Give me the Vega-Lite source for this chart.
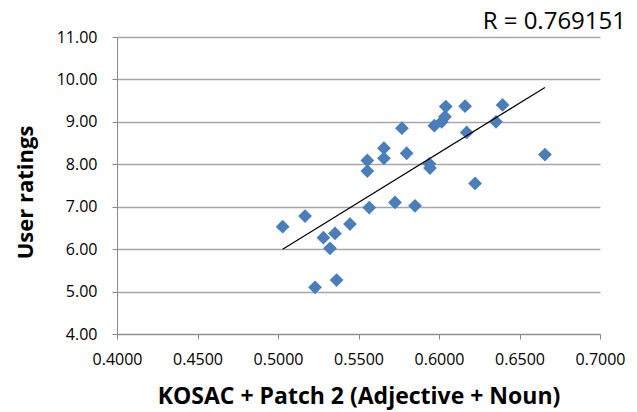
{
  "$schema": "https://vega.github.io/schema/vega-lite/v6.json",
  "width": 483,
  "height": 297,
  "autosize": "none",
  "padding": {"left": 117, "top": 37, "right": 37, "bottom": 78},
  "background": "white",
  "title": {"text": "R = 0.769151", "anchor": "end", "frame": "group", "dx": 26, "dy": 24, "offset": 0, "baseline": "alphabetic", "fontSize": 24, "fontWeight": "normal", "font": "Open Sans", "color": "#000000"},
  "datasets": {
    "pts": [
      {"x": 0.5029, "y": 6.53}, {"x": 0.5168, "y": 6.78}, {"x": 0.5282, "y": 6.27}, {"x": 0.5354, "y": 6.37},
      {"x": 0.5323, "y": 6.02}, {"x": 0.5230, "y": 5.10}, {"x": 0.5364, "y": 5.27}, {"x": 0.5447, "y": 6.59},
      {"x": 0.5567, "y": 6.98}, {"x": 0.5555, "y": 8.09}, {"x": 0.5555, "y": 7.84}, {"x": 0.5658, "y": 8.38},
      {"x": 0.5658, "y": 8.14}, {"x": 0.5770, "y": 8.85}, {"x": 0.5799, "y": 8.26}, {"x": 0.5727, "y": 7.10},
      {"x": 0.5851, "y": 7.02}, {"x": 0.5940, "y": 8.01}, {"x": 0.5944, "y": 7.91}, {"x": 0.5971, "y": 8.91},
      {"x": 0.6017, "y": 9.00}, {"x": 0.6037, "y": 9.12}, {"x": 0.6042, "y": 9.36}, {"x": 0.6162, "y": 9.37},
      {"x": 0.6172, "y": 8.75}, {"x": 0.6224, "y": 7.55}, {"x": 0.6354, "y": 9.00}, {"x": 0.6395, "y": 9.40},
      {"x": 0.6658, "y": 8.23}
    ],
    "trend": [{"x": 0.5029, "y": 6.00}, {"x": 0.6658, "y": 9.81}]
  },
  "config": {
    "view": {"stroke": null},
    "axis": {"labelFont": "Open Sans", "titleFont": "Open Sans", "labelColor": "#000000", "titleColor": "#000000", "domainColor": "#898989", "tickColor": "#898989", "gridColor": "#a6a6a6"}
  },
  "layer": [
    {
      "data": {"name": "pts"},
      "mark": {"type": "point", "shape": "diamond", "filled": true, "size": 190, "color": "#4a7ebb", "opacity": 1},
      "encoding": {
        "x": {"field": "x", "type": "quantitative", "scale": {"domain": [0.4, 0.7], "nice": false, "zero": false},
          "axis": {"title": "KOSAC + Patch 2 (Adjective + Noun)", "format": ".4f", "values": [0.4, 0.45, 0.5, 0.55, 0.6, 0.65, 0.7], "grid": false, "labelFontSize": 16, "labelPadding": 12, "tickSize": 5, "titleFontSize": 23, "titleFontWeight": "bold", "titlePadding": 18, "labelFlush": false}},
        "y": {"field": "y", "type": "quantitative", "scale": {"domain": [4, 11], "nice": false, "zero": false},
          "axis": {"title": "User ratings", "format": ".2f", "values": [4, 5, 6, 7, 8, 9, 10, 11], "grid": true, "gridWidth": 1.5, "labelFontSize": 16, "labelPadding": 15, "tickSize": 5, "titleFontSize": 22, "titleFontWeight": "bold", "titlePadding": 19, "titleY": 155, "labelFlush": false}}
      }
    },
    {
      "data": {"name": "trend"},
      "mark": {"type": "line", "color": "#000000", "strokeWidth": 1.2},
      "encoding": {
        "x": {"field": "x", "type": "quantitative"},
        "y": {"field": "y", "type": "quantitative"}
      }
    }
  ]
}
